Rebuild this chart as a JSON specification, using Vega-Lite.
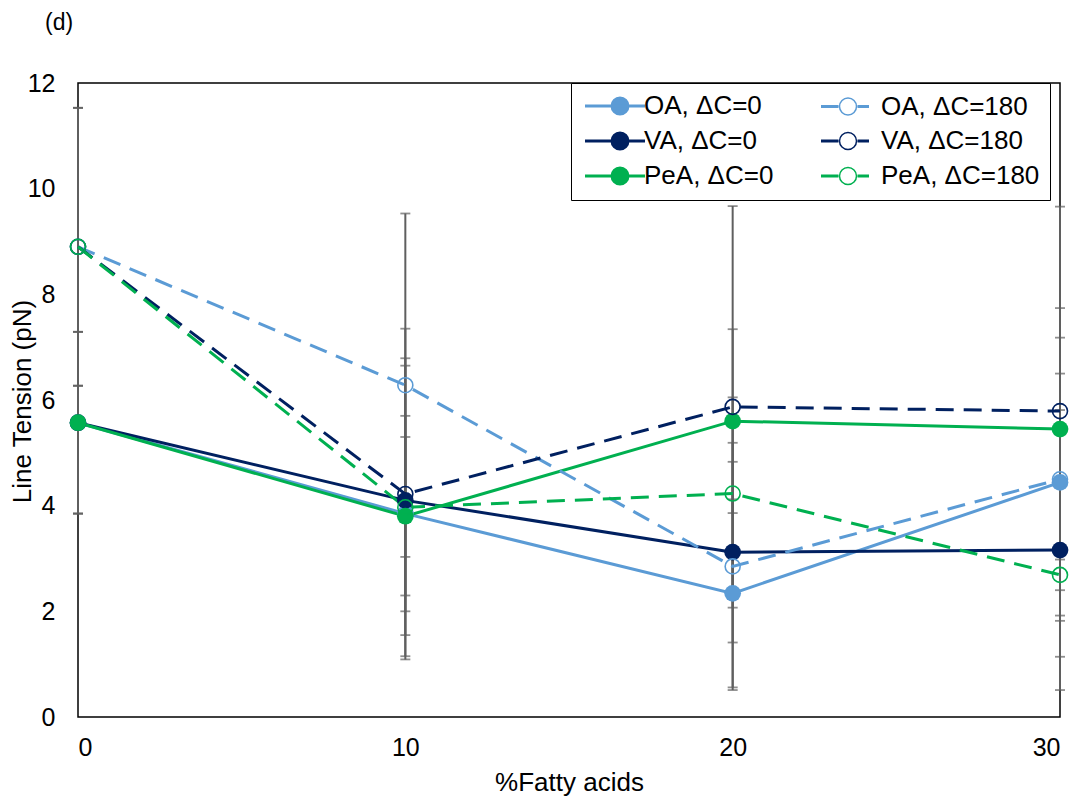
{
  "$schema": "https://vega.github.io/schema/vega-lite/v6.json",
  "autosize": {"type": "none"},
  "width": 982,
  "height": 634,
  "padding": {"left": 78, "top": 83, "right": 19, "bottom": 82},
  "background": "#ffffff",
  "title": {
    "text": "(d)",
    "anchor": "start",
    "frame": "group",
    "baseline": "top",
    "dx": -33,
    "offset": 36,
    "font": "Liberation Sans",
    "fontSize": 23,
    "fontWeight": "normal",
    "color": "#000000"
  },
  "data": {
    "values": [
      {"pct": 0, "acid": "OA", "dc": "0", "series": "OA, ΔC=0", "value": 5.57, "err": 1.72},
      {"pct": 10, "acid": "OA", "dc": "0", "series": "OA, ΔC=0", "value": 3.85, "err": 1.85},
      {"pct": 20, "acid": "OA", "dc": "0", "series": "OA, ΔC=0", "value": 2.34, "err": 1.78},
      {"pct": 30, "acid": "OA", "dc": "0", "series": "OA, ΔC=0", "value": 4.44, "err": 3.3},
      {"pct": 0, "acid": "VA", "dc": "0", "series": "VA, ΔC=0", "value": 5.57, "err": 1.72},
      {"pct": 10, "acid": "VA", "dc": "0", "series": "VA, ΔC=0", "value": 4.1, "err": 2.55},
      {"pct": 20, "acid": "VA", "dc": "0", "series": "VA, ΔC=0", "value": 3.12, "err": 1.71},
      {"pct": 30, "acid": "VA", "dc": "0", "series": "VA, ΔC=0", "value": 3.16, "err": 2.65},
      {"pct": 0, "acid": "PeA", "dc": "0", "series": "PeA, ΔC=0", "value": 5.57, "err": 1.72},
      {"pct": 10, "acid": "PeA", "dc": "0", "series": "PeA, ΔC=0", "value": 3.8, "err": 1.5},
      {"pct": 20, "acid": "PeA", "dc": "0", "series": "PeA, ΔC=0", "value": 5.6, "err": 1.74},
      {"pct": 30, "acid": "PeA", "dc": "0", "series": "PeA, ΔC=0", "value": 5.45, "err": 1.05},
      {"pct": 0, "acid": "OA", "dc": "180", "series": "OA, ΔC=180", "value": 8.9, "err": 2.63},
      {"pct": 10, "acid": "OA", "dc": "180", "series": "OA, ΔC=180", "value": 6.28, "err": 3.25},
      {"pct": 20, "acid": "OA", "dc": "180", "series": "OA, ΔC=180", "value": 2.85, "err": 2.34},
      {"pct": 30, "acid": "OA", "dc": "180", "series": "OA, ΔC=180", "value": 4.5, "err": 2.68},
      {"pct": 0, "acid": "VA", "dc": "180", "series": "VA, ΔC=180", "value": 8.9, "err": 2.63},
      {"pct": 10, "acid": "VA", "dc": "180", "series": "VA, ΔC=180", "value": 4.22, "err": 3.13},
      {"pct": 20, "acid": "VA", "dc": "180", "series": "VA, ΔC=180", "value": 5.87, "err": 3.8},
      {"pct": 30, "acid": "VA", "dc": "180", "series": "VA, ΔC=180", "value": 5.79, "err": 3.87},
      {"pct": 0, "acid": "PeA", "dc": "180", "series": "PeA, ΔC=180", "value": 8.9, "err": 2.63},
      {"pct": 10, "acid": "PeA", "dc": "180", "series": "PeA, ΔC=180", "value": 3.97, "err": 2.82},
      {"pct": 20, "acid": "PeA", "dc": "180", "series": "PeA, ΔC=180", "value": 4.23, "err": 1.82},
      {"pct": 30, "acid": "PeA", "dc": "180", "series": "PeA, ΔC=180", "value": 2.69, "err": 0.29}
    ]
  },
  "layer": [
    {
      "mark": {
        "type": "errorbar",
        "color": "#5f5f5f",
        "rule": {"strokeWidth": 2},
        "ticks": {"size": 10, "thickness": 1.8, "color": "#5f5f5f"}
      },
      "encoding": {
        "x": {"field": "pct", "type": "quantitative", "title": "%Fatty acids"},
        "y": {"field": "value", "type": "quantitative", "title": "Line Tension (pN)"},
        "yError": {"field": "err"},
        "detail": {"field": "series"}
      }
    },
    {
      "transform": [{"filter": "datum.dc == '0'"}],
      "mark": {"type": "line", "strokeWidth": 3},
      "encoding": {
        "x": {
          "field": "pct",
          "type": "quantitative",
          "title": "%Fatty acids",
          "scale": {"domain": [0, 30], "nice": false, "zero": false},
          "axis": {"values": [0, 10, 20, 30], "labelPadding": 18, "titlePadding": 9}
        },
        "y": {
          "field": "value",
          "type": "quantitative",
          "title": "Line Tension (pN)",
          "scale": {"domain": [0, 12], "nice": false},
          "axis": {
            "values": [0, 2, 4, 6, 8, 10, 12],
            "labelPadding": 23,
            "titleX": -56,
            "titleY": 318,
            "titleAngle": -90,
            "titleBaseline": "middle",
            "titleAlign": "center"
          }
        },
        "color": {
          "field": "series",
          "type": "nominal",
          "scale": {
            "domain": ["OA, ΔC=0", "VA, ΔC=0", "PeA, ΔC=0", "OA, ΔC=180", "VA, ΔC=180", "PeA, ΔC=180"],
            "range": ["#5B9BD5", "#002060", "#00B050", "#5B9BD5", "#002060", "#00B050"]
          },
          "legend": {
            "title": null,
            "orient": "none",
            "legendX": 493,
            "legendY": 0,
            "columns": 2,
            "columnPadding": 44,
            "rowPadding": 7,
            "padding": 10,
            "strokeColor": "#000000",
            "fillColor": "#ffffff",
            "symbolType": "M-2.6,0L3.4,0M0.1,0C0.1,-0.44,0.46,-0.8,0.9,-0.8C1.34,-0.8,1.7,-0.44,1.7,0C1.7,0.44,1.34,0.8,0.9,0.8C0.46,0.8,0.1,0.44,0.1,0Z",
            "symbolSize": 400,
            "symbolStrokeWidth": 3,
            "symbolOffset": 17,
            "labelOffset": 20,
            "labelFont": "Liberation Sans",
            "labelFontSize": 26,
            "labelColor": "#000000",
            "labelLimit": 300,
            "encode": {
              "symbols": {
                "update": {
                  "shape": {"signal": "datum.index >= 3 ? 'M-2.7,-0.07L-0.95,-0.07M-2.7,0.07L-0.95,0.07M0.95,-0.07L2.1,-0.07M0.95,0.07L2.1,0.07M-0.85,0C-0.85,-0.47,-0.47,-0.85,0,-0.85C0.47,-0.85,0.85,-0.47,0.85,0C0.85,0.47,0.47,0.85,0,0.85C-0.47,0.85,-0.85,0.47,-0.85,0Z' : 'M-2.6,0L3.4,0M0.1,0C0.1,-0.44,0.46,-0.8,0.9,-0.8C1.34,-0.8,1.7,-0.44,1.7,0C1.7,0.44,1.34,0.8,0.9,0.8C0.46,0.8,0.1,0.44,0.1,0Z'"},
                  "fillOpacity": {"signal": "datum.index >= 3 ? 0 : 1"},
                  "strokeWidth": {"signal": "datum.index >= 3 ? 1.5 : 3"}
                }
              }
            }
          }
        }
      }
    },
    {
      "transform": [{"filter": "datum.dc == '180'"}],
      "mark": {"type": "line", "strokeWidth": 3, "strokeDash": [18, 10]},
      "encoding": {
        "x": {"field": "pct", "type": "quantitative"},
        "y": {"field": "value", "type": "quantitative"},
        "color": {"field": "series", "type": "nominal"}
      }
    },
    {
      "transform": [{"filter": "datum.dc == '0'"}],
      "mark": {"type": "point", "filled": true, "size": 280, "opacity": 1},
      "encoding": {
        "x": {"field": "pct", "type": "quantitative"},
        "y": {"field": "value", "type": "quantitative"},
        "color": {"field": "series", "type": "nominal"}
      }
    },
    {
      "transform": [{"filter": "datum.dc == '180'"}],
      "mark": {"type": "point", "filled": false, "size": 225, "strokeWidth": 1.6, "opacity": 1},
      "encoding": {
        "x": {"field": "pct", "type": "quantitative"},
        "y": {"field": "value", "type": "quantitative"},
        "color": {"field": "series", "type": "nominal"}
      }
    }
  ],
  "config": {
    "view": {"stroke": "#000000", "strokeWidth": 1.5},
    "axis": {
      "grid": false,
      "ticks": false,
      "domain": false,
      "labelFont": "Liberation Sans",
      "labelFontSize": 25,
      "labelColor": "#000000",
      "titleFont": "Liberation Sans",
      "titleFontSize": 26,
      "titleFontWeight": "normal",
      "titleColor": "#000000"
    }
  }
}
